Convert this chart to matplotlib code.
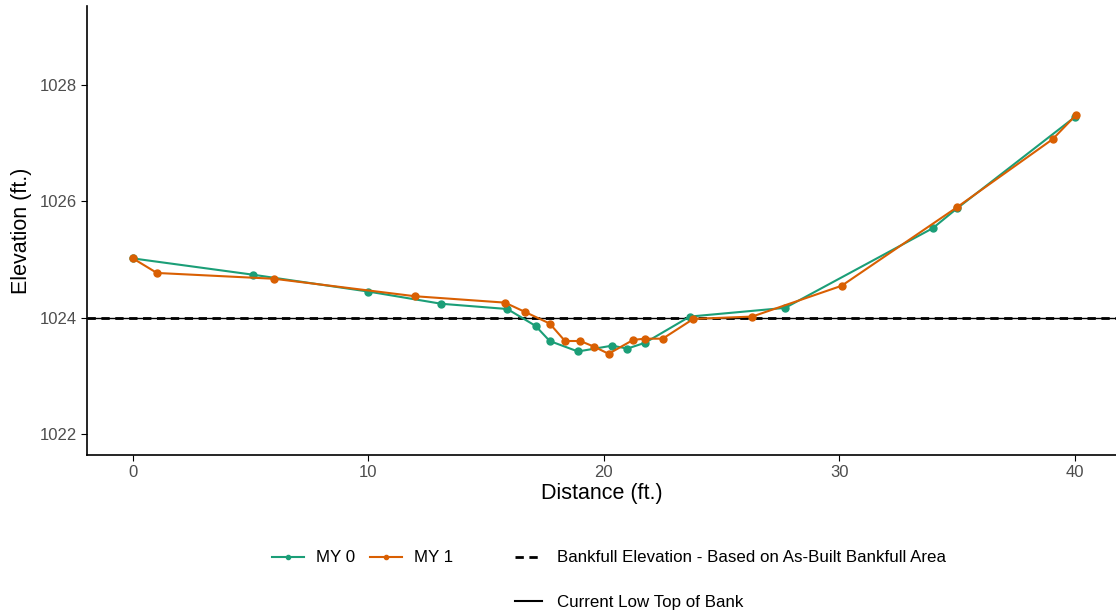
import matplotlib.pyplot as plt
from matplotlib.lines import Line2D

plt.rcParams['font.family'] = ['Liberation Sans', 'DejaVu Sans']

# cross-section survey
my0_dist = [0, 5.1, 10, 13.1, 15.9, 17.1, 17.7, 18.9, 20.35, 21.0, 21.75, 23.65, 27.7, 33.97, 35.0, 40.0]
my0_elev = [1025.02, 1024.74, 1024.45, 1024.24, 1024.15, 1023.86, 1023.6, 1023.42, 1023.52, 1023.47,
            1023.57, 1024.02, 1024.17, 1025.54, 1025.88, 1027.45]

my1_dist = [0, 1.02, 6.0, 11.97, 15.8, 16.65, 17.7, 18.35, 19.0, 19.6, 20.2, 21.25, 21.75, 22.5,
            23.8, 26.3, 30.1, 35.0, 39.06, 40.04]
my1_elev = [1025.02, 1024.77, 1024.67, 1024.37, 1024.26, 1024.1, 1023.9, 1023.6, 1023.6, 1023.5,
            1023.38, 1023.62, 1023.64, 1023.64, 1023.98, 1024.02, 1024.55, 1025.9, 1027.07, 1027.48]

bankfull_elev = 1024.0
low_top_of_bank = 1024.0

GREEN = "#1b9e77"
ORANGE = "#d95f02"

fig = plt.figure(figsize=(11.16, 6.16), dpi=100)
ax = fig.add_axes([87 / 1116, 1 - 455 / 616, 1 - 87 / 1116, (455 - 6) / 616])

ax.axhline(low_top_of_bank, color="black", lw=1.0, ls="-", zorder=1)
ax.axhline(bankfull_elev, color="black", lw=2.0, ls=(0, (3, 2)), zorder=1)
ax.plot(my0_dist, my0_elev, color=GREEN, lw=1.5, marker="o", ms=5, zorder=3)
ax.plot(my1_dist, my1_elev, color=ORANGE, lw=1.5, marker="o", ms=5, zorder=4)

ax.set_xlim(-1.95, 41.75)
ax.set_ylim(1021.64, 1029.36)
ax.set_xticks([0, 10, 20, 30, 40])
ax.set_yticks([1022, 1024, 1026, 1028])
ax.tick_params(labelcolor="#4d4d4d", labelsize=12, length=4, color="black")
for side in ("top", "right"):
    ax.spines[side].set_visible(False)
for side in ("left", "bottom"):
    ax.spines[side].set_linewidth(1.2)
ax.set_xlabel("Distance (ft.)", fontsize=15.5, labelpad=2)
ax.set_ylabel("Elevation (ft.)", fontsize=15.5, labelpad=5)

# legends
h_my = [Line2D([], [], color=GREEN, lw=1.5, marker="o", ms=3),
        Line2D([], [], color=ORANGE, lw=1.5, marker="o", ms=3)]
fig.legend(h_my, ["MY 0", "MY 1"], ncol=2, frameon=False, fontsize=12.2,
           loc="center left", bbox_to_anchor=(265 / 1116, 1 - 558 / 616),
           handlelength=1.9, columnspacing=0.9, handletextpad=0.7, borderaxespad=0)
h_bf = [Line2D([], [], color="black", lw=2.0, ls=(0, (3, 2)))]
fig.legend(h_bf, ["Bankfull Elevation - Based on As-Built Bankfull Area"], frameon=False,
           fontsize=12.2, loc="center left", bbox_to_anchor=(508 / 1116, 1 - 558 / 616),
           handlelength=1.6, handletextpad=0.9, borderaxespad=0)
h_lt = [Line2D([], [], color="black", lw=1.5)]
fig.legend(h_lt, ["Current Low Top of Bank"], frameon=False,
           fontsize=12.2, loc="center left", bbox_to_anchor=(508 / 1116, 1 - 602 / 616),
           handlelength=1.6, handletextpad=0.9, borderaxespad=0)

fig.savefig("out.png", dpi=100)
